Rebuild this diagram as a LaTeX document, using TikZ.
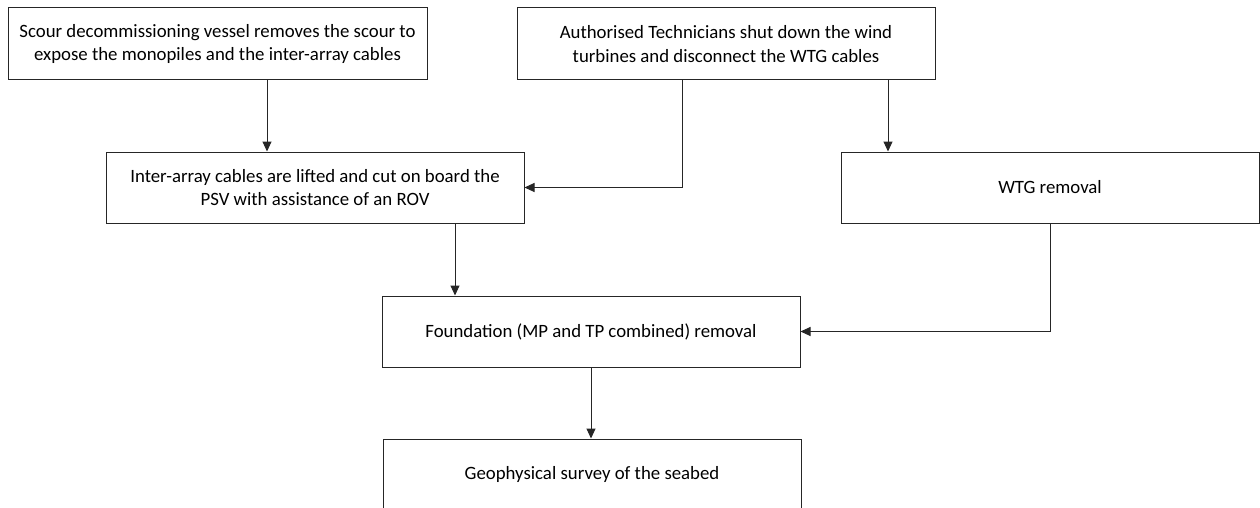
\documentclass[tikz,border=0pt]{standalone}
\usepackage{fontspec}
\setmainfont{Carlito}
\usetikzlibrary{arrows.meta}
\begin{document}
\begin{tikzpicture}[x=1pt,y=-1pt,
  box/.style={draw=black!85,line width=1pt,rectangle,minimum width=418pt,minimum height=72pt,inner sep=0pt,align=center,font=\fontsize{18.8}{23.5}\selectfont},
  conn/.style={draw=black!85,line width=1pt,-{Triangle[length=10pt,width=9pt]}}]
\useasboundingbox (0,0) rectangle (1260,508);
\node[box,minimum width=419pt] (b1) at (217.5,44) {Scour decommissioning vessel removes the scour to\\expose the monopiles and the inter-array cables};
\node[box] (b2) at (726,44) {Authorised Technicians shut down the wind\\turbines and disconnect the WTG cables};
\node[box,minimum height=71pt] (b3) at (315,187.5) {Inter-array cables are lifted and cut on board the\\PSV with assistance of an ROV};
\node[box,minimum height=71pt] (b4) at (1050,187.5) {WTG removal};
\node[box,minimum height=71pt] (b5) at (591,331.5) {Foundation (MP and TP combined) removal};
\node[box,minimum height=71pt] (b6) at (592,474.5) {Geophysical survey of the seabed};
\draw[conn] (b1.south -| 267,0) -- (b3.north -| 267,0);
\draw[conn] (b2.south -| 682,0) |- (b3.east);
\draw[conn] (b2.south -| 888,0) -- (b4.north -| 888,0);
\draw[conn] (b3.south -| 455,0) -- (b5.north -| 455,0);
\draw[conn] (b4.south) |- (b5.east);
\draw[conn] (b5.south) -- (b6.north -| b5.south);
\end{tikzpicture}
\end{document}
